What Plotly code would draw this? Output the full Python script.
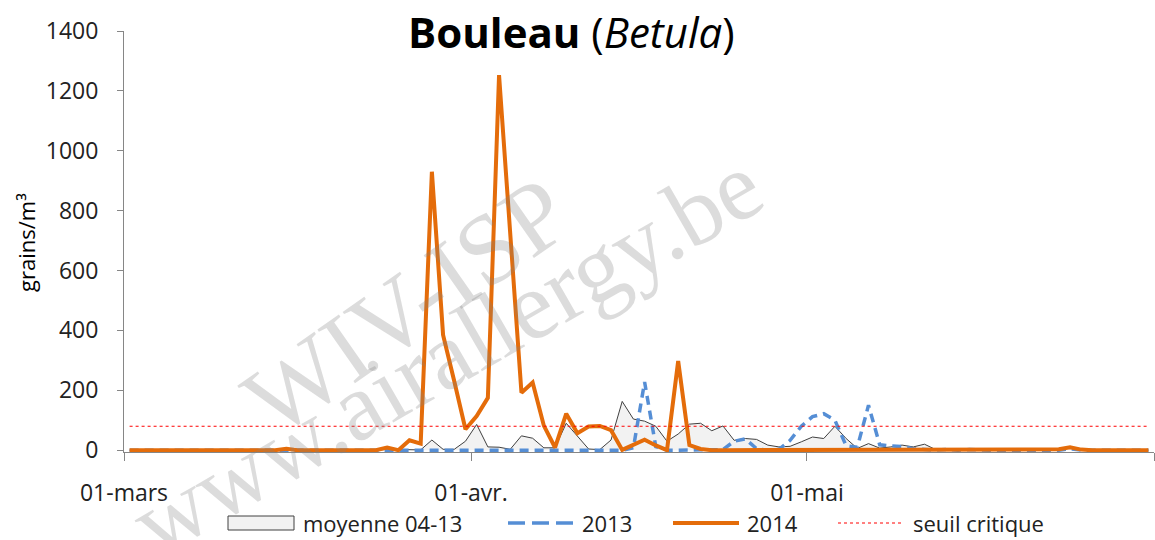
import pandas as pd
import plotly.graph_objects as go

# ---- data (daily values, 1 March .. 31 May) ----
moyenne_04_13 = [0]*14 + [3] + [0]*8 + [3, 2, 2, 1, 34, 3, 3, 30, 86, 11, 10, 3, 48, 40, 8, 8, 90, 48, 4, 2, 34,
                 163, 104, 97, 80, 30, 54, 87, 90, 65, 81, 33, 39, 36, 17, 11, 13, 28, 44, 39, 80, 39, 6, 22, 7,
                 11, 17, 11, 20, 2, 3, 2, 2, 1, 0, 0, 0, 0, 0, 0, 3, 8, 2, 0, 0, 0, 0, 0, 0]
y2013 = [0]*45 + [8, 228, 12, 0, 0, 0, 0, 0, 2, 30, 38, 5, 0, 3, 33, 80, 112, 122, 100, 15, 10, 150, 18,
                  14, 12, 5, 2, 0, 3, 0, 2, 0, 0, 0, 0, 0, 0, 0, 0, 5, 0, 0, 0, 0, 0, 0, 0]
y2014 = [0]*14 + [5] + [0]*8 + [9, 0, 33, 22, 930, 385, 230, 70, 114, 175, 1253, 700, 192, 226, 82, 9, 122,
                  57, 79, 81, 67, 1, 17, 35, 16, 0, 298, 17, 4, 0, 0, 0, 0, 0, 0, 0, 0, 3, 2, 0, 0, 0, 0, 0,
                  0, 0, 0, 0, 0, 0, 0, 0, 0, 0, 0, 0, 0, 0, 0, 0, 3, 10, 2, 0, 0, 0, 0, 0, 0]
seuil = 80
series_names = ["moyenne 04-13", "2013", "2014", "seuil critique"]
tick_vals = ["2014-03-01", "2014-04-01", "2014-05-01", "2014-06-01"]
tick_text = ["01-mars", "01-avr.", "01-mai", ""]
y_ticks = [0, 200, 400, 600, 800, 1000, 1200, 1400]

days = pd.date_range("2014-03-01 12:00", periods=len(y2014), freq="D")

FONT = "Open Sans"
TXT = "#222222"
C_AVG_LINE, C_AVG_FILL = "#404040", "#F2F2F2"
C13, C14, CSEUIL = "#558ED5", "#E46C0A", "#FF0000"

fig = go.Figure()
fig.add_trace(go.Scatter(x=days, y=moyenne_04_13, name=series_names[0], mode="lines",
                         line=dict(color=C_AVG_LINE, width=1), fill="tozeroy", fillcolor=C_AVG_FILL))
fig.add_trace(go.Scatter(x=days, y=y2013, name=series_names[1], mode="lines",
                         line=dict(color=C13, width=3.5, dash="9px,6px")))
fig.add_trace(go.Scatter(x=days, y=y2014, name=series_names[2], mode="lines",
                         line=dict(color=C14, width=4)))
fig.add_trace(go.Scatter(x=days, y=[seuil]*len(days), name=series_names[3], mode="lines",
                         line=dict(color=CSEUIL, width=1, dash="dot")))

def px_x(px):
    return (px - 124) / 1030

def px_y(py):
    return (452 - py) / 421

WM1 = dict(family="Liberation Serif", size=100, color="rgba(128,128,128,0.28)")
WM2 = dict(family="Liberation Serif", size=97, color="rgba(128,128,128,0.28)")
annotations = [
    dict(text="WIV-ISP", x=px_x(406), y=px_y(306), xref="paper", yref="paper", showarrow=False,
         xanchor="center", yanchor="middle", textangle=-35, font=WM1),
    dict(text="www.airallergy.be", x=px_x(446), y=px_y(354), xref="paper", yref="paper", showarrow=False,
         xanchor="center", yanchor="middle", textangle=-30, font=WM2),
    dict(text="<b>Bouleau</b> (<i>Betula</i>)", x=px_x(571), y=px_y(31), xref="paper", yref="paper",
         xanchor="center", yanchor="middle", showarrow=False, font=dict(family=FONT, size=42, color="#000000")),
    dict(text="grains/m³", x=px_x(26), y=px_y(243), xref="paper", yref="paper", showarrow=False,
         xanchor="center", yanchor="middle", textangle=-90, font=dict(family=FONT, size=22, color="#000000")),
]

# manual legend (symbols as shapes, labels as text)
LEG_Y = 523
leg_sym = [(228, 294), (508, 573), (673, 739), (838, 901)]
leg_txt_x = [301, 580, 745, 911]
shapes = [
    dict(type="rect", xref="paper", yref="paper", x0=px_x(leg_sym[0][0]), x1=px_x(leg_sym[0][1]),
         y0=px_y(LEG_Y + 7), y1=px_y(LEG_Y - 7), line=dict(color=C_AVG_LINE, width=1), fillcolor=C_AVG_FILL),
    dict(type="line", xref="paper", yref="paper", x0=px_x(leg_sym[1][0]), x1=px_x(leg_sym[1][1]),
         y0=px_y(LEG_Y), y1=px_y(LEG_Y), line=dict(color=C13, width=3.5, dash="17px,7px")),
    dict(type="line", xref="paper", yref="paper", x0=px_x(leg_sym[2][0]), x1=px_x(leg_sym[2][1]),
         y0=px_y(LEG_Y), y1=px_y(LEG_Y), line=dict(color=C14, width=4)),
    dict(type="line", xref="paper", yref="paper", x0=px_x(leg_sym[3][0]), x1=px_x(leg_sym[3][1]),
         y0=px_y(LEG_Y), y1=px_y(LEG_Y), line=dict(color=CSEUIL, width=1, dash="dot")),
]
for name, tx in zip(series_names, leg_txt_x):
    annotations.append(dict(text=name, x=px_x(tx), y=px_y(LEG_Y), xref="paper", yref="paper",
                            xanchor="left", yanchor="middle", showarrow=False,
                            font=dict(family=FONT, size=22, color=TXT)))

fig.update_layout(
    width=1155, height=540,
    margin=dict(l=124, r=1, t=31, b=88, autoexpand=False),
    paper_bgcolor="white", plot_bgcolor="white",
    font=dict(family=FONT, size=22, color=TXT),
    showlegend=False,
    annotations=annotations,
    shapes=shapes,
    xaxis=dict(type="date", range=["2014-03-01", "2014-06-01"], tickvals=tick_vals, ticktext=tick_text,
               showgrid=False, zeroline=False, showline=True, linecolor="#868686", linewidth=1,
               ticks="outside", ticklen=8, tickcolor="#868686", layer="below traces", automargin=False,
               ticklabelstandoff=12,
               tickfont=dict(family=FONT, size=23, color=TXT)),
    yaxis=dict(range=[-6, 1400], tickvals=y_ticks,
               showgrid=False, zeroline=False, showline=True, linecolor="#868686", linewidth=1,
               ticks="outside", ticklen=6, tickcolor="#868686", layer="below traces", automargin=False,
               ticklabelstandoff=14,
               tickfont=dict(family=FONT, size=23, color=TXT)),
)

fig.write_html("out.html", config={"displayModeBar": False},
               post_script="document.body.style.margin='0';document.body.style.overflow='hidden';")
